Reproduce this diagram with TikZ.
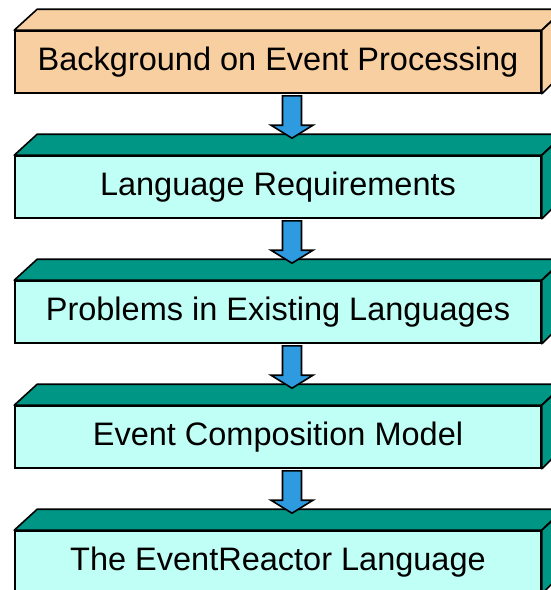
\documentclass[tikz,border=0pt]{standalone}
\usepackage{fontspec}
\setmainfont{Liberation Sans}
\usetikzlibrary{calc, positioning}

\definecolor{peach}{RGB}{248,207,160}
\definecolor{teal}{RGB}{0,150,134}
\definecolor{aqua}{RGB}{192,255,246}
\definecolor{arrowblue}{RGB}{46,154,224}

\tikzset{
  slab/.style={rectangle, draw, line width=1.6pt, minimum width=526pt, minimum height=62pt, inner sep=0pt, font=\fontsize{32.5}{38}\selectfont},
  face/.style={draw, line width=1.6pt, line join=round},
  flow/.style={draw, line width=1.6pt, fill=arrowblue, line join=miter,
    to path={let \p1=(\tikztostart), \p2=(\tikztotarget) in
      (\x1+4.5pt,\y1-2pt) -- (\x1+23.5pt,\y1-2pt) -- (\x1+23.5pt,\y2+30pt)
      -- (\x1+35pt,\y2+30pt) -- (\x1+14pt,\y2+17pt) -- (\x1-7pt,\y2+30pt)
      -- (\x1+4.5pt,\y2+30pt) -- cycle}}
}

\begin{document}
\begin{tikzpicture}[x=1pt, y=-1pt, node distance=125pt]
\useasboundingbox (0,0) rectangle (551,590);
\clip (0,0) rectangle (551,590);

\node (bg) [slab, fill=peach] at (278,62) {Background on Event Processing};
\node (req) [slab, fill=aqua, below of=bg] {Language Requirements};
\node (prob) [slab, fill=aqua, below of=req] {Problems in Existing Languages};
\node (comp) [slab, fill=aqua, below of=prob] {Event Composition Model};
\node (er) [slab, fill=aqua, below of=comp] {The EventReactor Language};

% top and side faces
\foreach \n/\c in {bg/peach, req/teal, prob/teal, comp/teal, er/teal} {
  \draw[face, fill=\c] (\n.north west) -- ++(23,-21) -- ++(526,0) -- (\n.north east) -- cycle;
  \draw[face, fill=\c] (\n.north east) -- ++(23,-21) -- ++(0,62) -- (\n.south east) -- cycle;
}

\path (bg.south) edge[flow] (req.north)
      (req.south) edge[flow] (prob.north)
      (prob.south) edge[flow] (comp.north)
      (comp.south) edge[flow] (er.north);
\end{tikzpicture}
\end{document}
